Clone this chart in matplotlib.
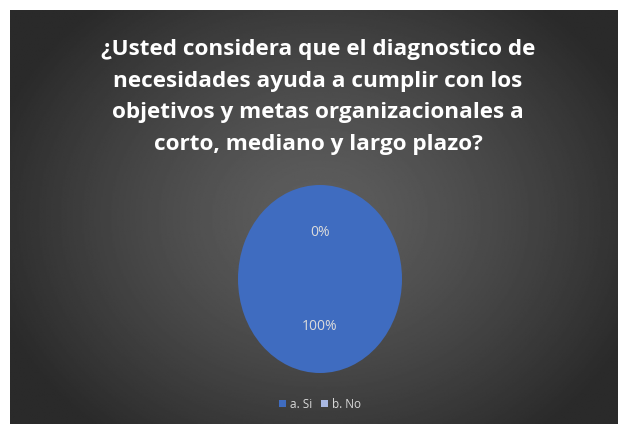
import numpy as np
import matplotlib
matplotlib.use('Agg')
import matplotlib.pyplot as plt
from matplotlib.patches import Patch

# datos
categorias = ['a. Si', 'b. No']
valores = [100, 0]
colores = ['#3f6cc0', '#a9b8e2']
titulo = ('¿Usted considera que el diagnostico de\n'
          'necesidades ayuda a cumplir con los\n'
          'objetivos y metas organizacionales a\n'
          'corto, mediano y largo plazo?')

W, H = 618, 424
fig = plt.figure(figsize=(W / 100, H / 100), dpi=100)
fig.patch.set_facecolor('white')

# fondo con degradado radial
bg = fig.add_axes([10 / W, 0, 1 - 10 / W, 1 - 10 / H])
yy, xx = np.mgrid[0:1:300j, 0:1:450j]
r = np.sqrt(((xx - 0.51) / 0.75) ** 2 + ((yy - 0.5) / 0.9) ** 2)
r = np.clip(r / 0.75, 0, 1)
gris = 0.37 - (0.37 - 0.165) * r ** 1.3
bg.imshow(gris, cmap='gray', vmin=0, vmax=1, aspect='auto', extent=[0, 1, 0, 1], origin='upper')
bg.set_axis_off()

# titulo
fig.text(318 / W, 1 - 97 / H, titulo, ha='center', va='center', color='white',
         fontsize=16.2, fontweight='bold', family='Open Sans', linespacing=1.66)

# pastel
ax = fig.add_axes([238 / W, 1 - 373 / H, 164 / W, 188 / H])
wedges, textos, autotextos = ax.pie(valores, colors=colores, startangle=90, counterclock=False,
                                    autopct='%1.0f%%', pctdistance=0.5,
                                    textprops=dict(color='#dcdcdc', fontsize=10, family='Open Sans'))
ax.set_xlim(-1, 1)
ax.set_ylim(-1, 1)
ax.set_aspect('auto')

# leyenda
handles = [Patch(facecolor=c, edgecolor='none') for c in colores]
fig.legend(handles, categorias, loc='center', bbox_to_anchor=(320 / W, 1 - 404 / H), ncol=2,
           frameon=False, labelcolor='#d9d9d9', handlelength=0.6, handleheight=0.6,
           handletextpad=0.3, columnspacing=0.8, prop=dict(family='Open Sans', size=8.5))

fig.savefig('out.png', dpi=100)
